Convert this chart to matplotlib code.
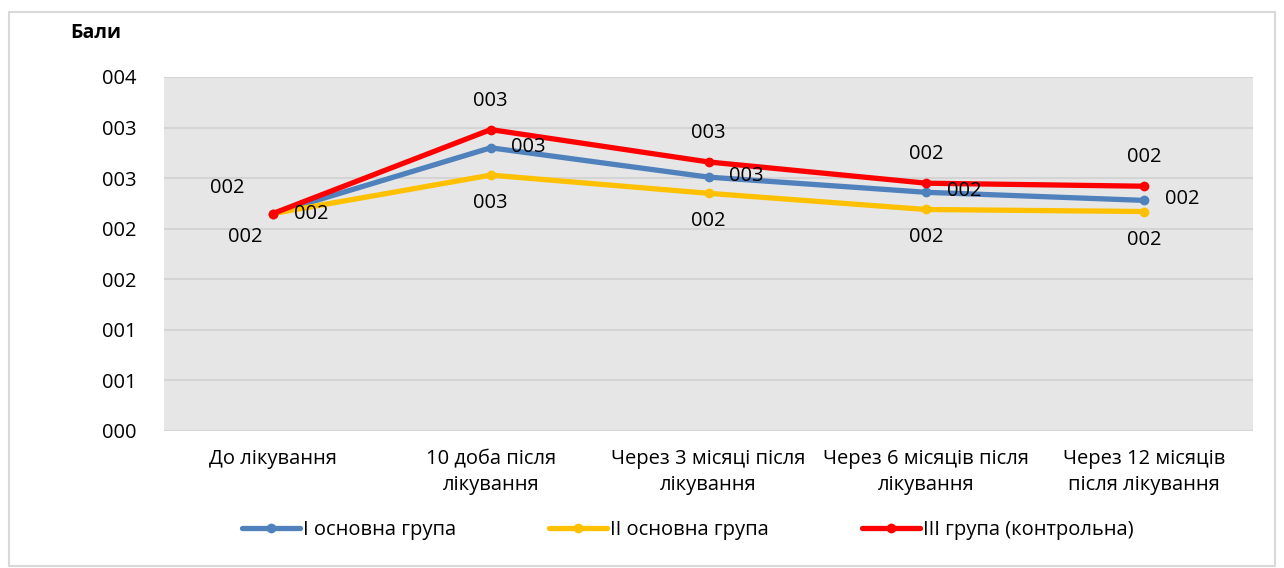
import math
import matplotlib
matplotlib.use("Agg")
import matplotlib.pyplot as plt
from matplotlib.patches import Rectangle
from matplotlib.ticker import FuncFormatter

plt.rcParams['font.family'] = ['Open Sans', 'DejaVu Sans']

categories = ["До лікування", "10 доба після\nлікування", "Через 3 місяці після\nлікування",
              "Через 6 місяців після\nлікування", "Через 12 місяців\nпісля лікування"]
group1 = [2.15, 2.80, 2.51, 2.36, 2.28]
group2 = [2.15, 2.53, 2.35, 2.19, 2.17]
group3 = [2.15, 2.98, 2.66, 2.45, 2.42]
names = ["I основна група", "II основна група", "III група (контрольна)"]
colors = ["#4F81BD", "#FFC000", "#FF0000"]


def fmt(v, pos=None):
    # Excel-style "000" format, round half up
    return f"{int(math.floor(v + 0.5)):03d}"


fig = plt.figure(figsize=(12.84, 5.68), dpi=100)
fig.patches.append(Rectangle((9 / 1284, 1 - 566 / 568), 1266 / 1284, 554 / 568,
                             transform=fig.transFigure, fill=False,
                             edgecolor="#D9D9D9", linewidth=1.5))
ax = fig.add_axes([164 / 1284, 1 - 431 / 568, 1089 / 1284, 354 / 568])
ax.set_facecolor("#E6E6E6")

x = list(range(len(categories)))
series = [group1, group2, group3]
# label offsets in pixels (first point, other points)
offsets = [((38, 0), (38, 1)), ((-28, -23), (0, -28)), ((-46, 26), (0, 29))]
for vals, name, col, off in zip(series, names, colors, offsets):
    ax.plot(x, vals, color=col, linewidth=3.8, marker="o", markersize=6,
            label=name, solid_capstyle="round", zorder=3)
    for i, v in enumerate(vals):
        dx, dy = off[0] if i == 0 else off[1]
        ax.annotate(fmt(v), (i, v), xytext=(dx, dy), textcoords="offset pixels",
                    ha="center", va="center", fontsize=14.5, color="black", zorder=4)

ax.set_xlim(-0.5, 4.5)
ax.set_ylim(0, 3.5)
ax.set_yticks([0, 0.5, 1, 1.5, 2, 2.5, 3, 3.5])
ax.yaxis.set_major_formatter(FuncFormatter(fmt))
ax.set_xticks(x)
ax.set_xticklabels(categories, fontsize=14.5, linespacing=1.4)
ax.tick_params(axis="y", length=0, pad=20, labelsize=14.5)
ax.tick_params(axis="x", length=0, pad=13)
ax.grid(axis="y", color="#D4D4D4", linewidth=1.5)
ax.set_axisbelow(True)
for s in ax.spines.values():
    s.set_visible(False)

fig.text(70 / 1284, 1 - 33 / 568, "Бали", fontsize=14, fontweight="bold", va="center")

ax.legend(loc="center", bbox_to_anchor=(0.481, -0.28), ncol=3, frameon=False,
          fontsize=14.5, handlelength=2.9, handletextpad=0.15, columnspacing=4.6)

fig.savefig("out.png", dpi=100, facecolor="white")
